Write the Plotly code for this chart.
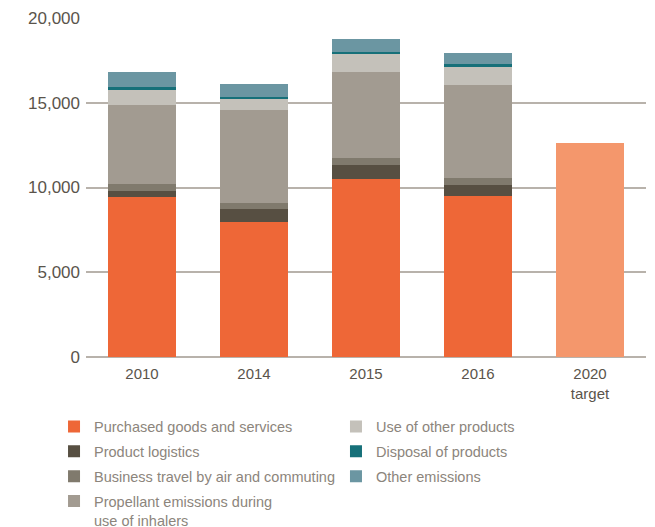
import plotly.graph_objects as go

categories = ["2010", "2014", "2015", "2016", "2020<br>target"]
years = ["2010", "2014", "2015", "2016"]

purchased = [9440, 7970, 10500, 9500]
logistics = [350, 760, 830, 650]
business = [420, 360, 410, 410]
propellant = [4660, 5480, 5070, 5490]
use_other = [880, 690, 1070, 1060]
disposal = [180, 60, 110, 180]
other = [880, 790, 770, 650]
target_2020 = [12630]

series = [
    ("Purchased goods and services", purchased, "#EE6737", "legend", 1),
    ("Product logistics", logistics, "#574F42", "legend", 2),
    ("Business travel by air and commuting", business, "#807A6D", "legend", 3),
    ("Propellant emissions during<br>use of inhalers", propellant, "#A29B91", "legend", 4),
    ("Use of other products", use_other, "#C4C1BA", "legend2", 1),
    ("Disposal of products", disposal, "#167079", "legend2", 2),
    ("Other emissions", other, "#6B96A2", "legend2", 3),
]

fig = go.Figure()
for name, vals, color, leg, rank in series:
    fig.add_trace(go.Bar(
        x=categories[:4], y=vals, name=name, marker_color=color,
        marker_line_width=0, legend=leg, legendrank=rank, legendgroup=name,
    ))
fig.add_trace(go.Bar(
    x=categories[4:], y=target_2020, name="2020 target", marker_color="#F4976C",
    marker_line_width=0, showlegend=False,
))

font_family = "Liberation Sans, Arial, sans-serif"
legend_common = dict(
    orientation="v", xanchor="left", yanchor="top",
    font=dict(family=font_family, size=14.5, color="#8C857C"),
    bgcolor="rgba(0,0,0,0)", borderwidth=0, tracegroupgap=3, valign="top",
    traceorder="grouped",
)

# page body has an 8px default margin, so the figure is 8px smaller than the window
fig.update_layout(
    width=647, height=519,
    margin=dict(l=78, r=9, t=10, b=170, autoexpand=False),
    barmode="stack", bargap=0.393,
    plot_bgcolor="white", paper_bgcolor="white",
    font=dict(family=font_family, color="#5A544B"),
    showlegend=True,
    legend=dict(x=-0.0571, y=-0.158, **legend_common),
    legend2=dict(x=0.4464, y=-0.158, **legend_common),
    xaxis=dict(
        categoryorder="array", categoryarray=categories,
        showgrid=False, showline=False, ticks="", zeroline=False,
        tickfont=dict(size=15, color="#5A544B"), ticklabelstandoff=6,
    ),
    yaxis=dict(
        range=[0, 20000], tickvals=[0, 5000, 10000, 15000, 20000],
        ticktext=["0", "5,000", "10,000", "15,000", "20,000"],
        showgrid=True, gridcolor="#B8B2AB", gridwidth=1.5,
        zeroline=True, zerolinecolor="#B8B2AB", zerolinewidth=1.5,
        showline=False, ticks="", ticklabelstandoff=5,
        tickfont=dict(size=17, color="#5A544B"),
    ),
)

fig.write_html("out.html")
